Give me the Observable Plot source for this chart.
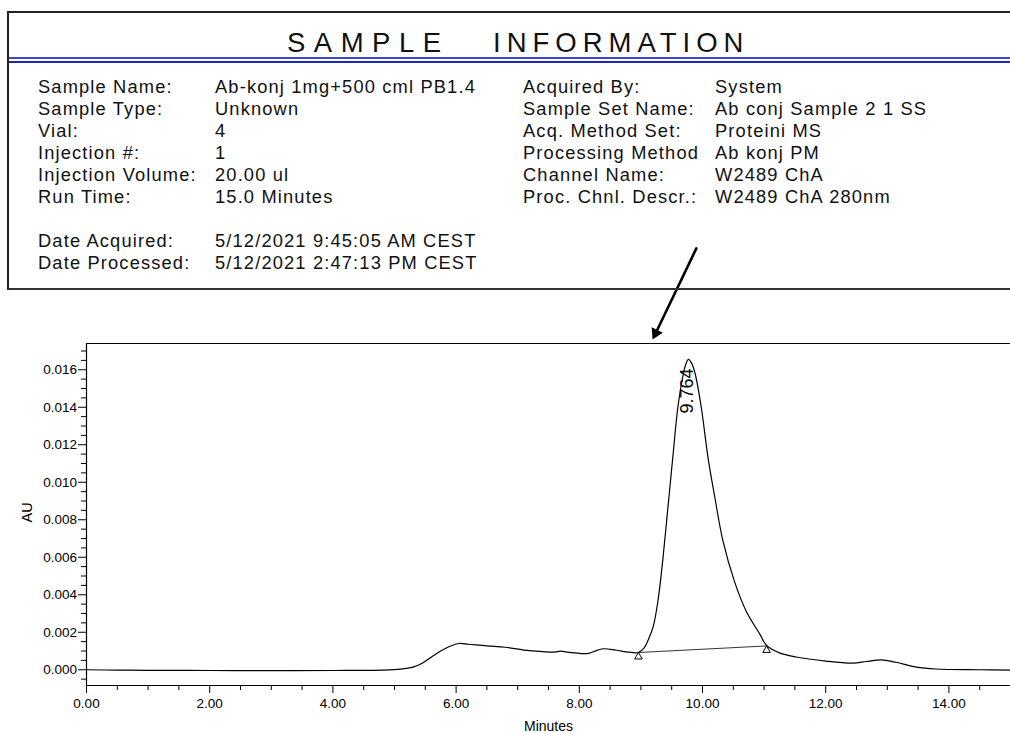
<!DOCTYPE html>
<html>
<head>
<meta charset="utf-8">
<script src="https://cdn.jsdelivr.net/npm/d3@7"></script>
<script src="https://cdn.jsdelivr.net/npm/@observablehq/plot@0.6"></script>
<style>
  body { margin: 0; background: #fff; }
  #wrap { position: relative; width: 1010px; height: 733px; overflow: hidden;
          font-family: "Liberation Sans", Arial, sans-serif; color: #111; }
  #chart { position: absolute; left: 0; top: 0; }
  #box { position: absolute; left: 7px; top: 11px; width: 1100px; height: 275px;
         border-left: 2px solid #222; border-top: 2px solid #222; border-bottom: 2px solid #333; }
  .blue { position: absolute; left: 9px; width: 1010px; height: 0; }
  .ttl { position: absolute; top: 29.3px; font-size: 27.5px; line-height: 27.5px; white-space: pre; }
  .col { position: absolute; top: 75.6px; font-size: 18.3px; letter-spacing: 1.15px; line-height: 22.1px; white-space: pre; }
</style>
</head>
<body>
<div id="wrap">
  <div id="chart"></div>
  <div id="header">
    <div id="box"></div>
    <div class="blue" style="top:57px;border-top:2px solid #3a46d4;"></div>
    <div class="blue" style="top:61px;border-top:2px solid #1c22c8;"></div>
    <div class="ttl" id="t1" style="left:287px;letter-spacing:8.5px"></div>
    <div class="ttl" id="t2" style="left:493px;letter-spacing:6px"></div>
    <div class="col" id="c1" style="left:38px"></div>
    <div class="col" id="c2" style="left:215px"></div>
    <div class="col" id="c3" style="left:523px"></div>
    <div class="col" id="c4" style="left:715px"></div>
  </div>
</div>
<script>
// ---- header texts ----
const titleWords = ["SAMPLE", "INFORMATION"];
const leftLabels = ["Sample Name:", "Sample Type:", "Vial:", "Injection #:", "Injection Volume:", "Run Time:", "", "Date Acquired:", "Date Processed:"];
const leftValues = ["Ab-konj 1mg+500 cml PB1.4", "Unknown", "4", "1", "20.00 ul", "15.0 Minutes", "", "5/12/2021 9:45:05 AM CEST", "5/12/2021 2:47:13 PM CEST"];
const rightLabels = ["Acquired By:", "Sample Set Name:", "Acq. Method Set:", "Processing Method", "Channel Name:", "Proc. Chnl. Descr.:"];
const rightValues = ["System", "Ab conj Sample 2 1 SS", "Proteini MS", "Ab konj PM", "W2489 ChA", "W2489 ChA 280nm"];

// ---- chromatogram (minutes, AU) ----
const times = [0.0, 0.5, 1.0, 2.0, 3.0, 4.0, 4.8, 5.1, 5.3, 5.45, 5.6, 5.75, 5.9, 6.05, 6.2, 6.5, 6.8, 7.1, 7.4, 7.6, 7.7, 7.8, 8.0, 8.15, 8.3, 8.4, 8.6, 8.8, 8.96, 9.05, 9.12, 9.2, 9.28, 9.36, 9.44, 9.52, 9.6, 9.69, 9.72, 9.77, 9.83, 9.88, 9.98, 10.09, 10.2, 10.33, 10.52, 10.71, 10.93, 11.04, 11.25, 11.52, 12.0, 12.44, 12.66, 12.9, 13.14, 13.47, 13.79, 14.5, 15.0];
const absorbance = [0.00000, -0.00002, -0.00003, -0.00004, -0.00005, -0.00004, -0.00002, 0.00003, 0.00014, 0.00035, 0.00068, 0.00100, 0.00125, 0.00140, 0.00136, 0.00127, 0.00120, 0.00105, 0.00097, 0.00094, 0.00099, 0.00094, 0.00087, 0.00087, 0.00105, 0.00112, 0.00104, 0.00094, 0.00092, 0.00115, 0.00160, 0.00230, 0.00375, 0.00600, 0.00870, 0.01140, 0.01400, 0.01580, 0.01620, 0.01655, 0.01630, 0.01580, 0.01400, 0.01130, 0.00920, 0.00690, 0.00470, 0.00312, 0.00190, 0.00130, 0.00090, 0.00068, 0.00046, 0.00035, 0.00044, 0.00053, 0.00040, 0.00014, 0.00004, 0.00000, -0.00002];

// integration baseline
const baselineT = [8.96, 11.04];
const baselineV = [0.00092, 0.00127];

// peak label
const peakT = [9.764];
const peakV = [0.01655];
const peakLabels = ["9.764"];

// annotation arrow (from header towards the peak)
const arrowStart = [9.90, 0.02247];
const arrowEnd = [9.19, 0.01761];

// axes
const xDomain = [0, 15];
const yDomain = [-0.00084, 0.0174];
const xMajor = [0, 2, 4, 6, 8, 10, 12, 14];
const yMajor = [0, 0.002, 0.004, 0.006, 0.008, 0.010, 0.012, 0.014, 0.016];
const xMinor = d3.range(0.5, 15, 0.5).filter(d => Math.abs(d / 2 - Math.round(d / 2)) > 1e-9);
const yMinor = d3.range(-0.0005, 0.01701, 0.0005).filter(d => Math.abs(d / 0.002 - Math.round(d / 0.002)) > 1e-6);

// ---- header DOM ----
document.getElementById("t1").textContent = titleWords[0];
document.getElementById("t2").textContent = titleWords[1];
document.getElementById("c1").textContent = leftLabels.join("\n");
document.getElementById("c2").textContent = leftValues.join("\n");
document.getElementById("c3").textContent = rightLabels.join("\n");
document.getElementById("c4").textContent = rightValues.join("\n");

// ---- chart ----
const trace = times.map((t, i) => ({t, v: absorbance[i]}));
const baseline = baselineT.map((t, i) => ({t, v: baselineV[i]}));
const peaks = peakT.map((t, i) => ({t, v: peakV[i], label: peakLabels[i]}));
const arrow = [{x1: arrowStart[0], y1: arrowStart[1], x2: arrowEnd[0], y2: arrowEnd[1]}];

const chart = Plot.plot({
  width: 1010,
  height: 733,
  marginTop: 343,
  marginBottom: 48,
  marginLeft: 86,
  marginRight: 0,
  style: {fontFamily: "'Liberation Sans', Arial, sans-serif", fontSize: "13.5px", background: "transparent", color: "#000", overflow: "visible"},
  x: {domain: xDomain},
  y: {domain: yDomain},
  marks: [
    Plot.axisX(xMinor, {tickSize: 5, tickFormat: () => "", label: null}),
    Plot.axisX(xMajor, {tickSize: 8, tickPadding: 5, tickFormat: d3.format(".2f"), label: null, fontSize: 13.5}),
    Plot.axisY(yMinor, {tickSize: 5, tickFormat: () => "", label: null}),
    Plot.axisY(yMajor, {tickSize: 8, tickPadding: 1.5, tickFormat: d3.format(".3f"), label: null, fontSize: 13.5}),
    Plot.ruleX([xDomain[0]], {stroke: "#000", strokeWidth: 1.2}),
    Plot.ruleY([yDomain[0], yDomain[1]], {stroke: "#000", strokeWidth: 1.2}),
    Plot.text(["AU"], {frameAnchor: "left", dx: -59, dy: 8, rotate: -90, text: d => d, fontSize: 14.5}),
    Plot.text(["Minutes"], {frameAnchor: "bottom", dy: 41, lineAnchor: "middle", text: d => d, fontSize: 14}),
    Plot.line(baseline, {x: "t", y: "v", stroke: "#333", strokeWidth: 1}),
    Plot.line(trace, {x: "t", y: "v", curve: "catmull-rom", stroke: "#000", strokeWidth: 1.2}),
    Plot.dot(baseline, {x: "t", y: "v", symbol: "triangle", r: 2.8, fill: "white", stroke: "#000", strokeWidth: 1, dy: 4.3}),
    Plot.text(peaks, {x: "t", y: "v", text: "label", rotate: -90, textAnchor: "end", lineAnchor: "middle", fontSize: 18, dx: -1, dy: 9}),
    Plot.arrow(arrow, {x1: "x1", y1: "y1", x2: "x2", y2: "y2", stroke: "#000", strokeWidth: 2.6, headLength: 0, insetEnd: 7}),
    Plot.dot(arrow, {x: "x2", y: "y2", symbol: "triangle", r: 4.6, fill: "#000", stroke: "none", rotate: 206, dx: 3.1, dy: -6.4})
  ]
});
document.getElementById("chart").appendChild(chart);
</script>
</body>
</html>
